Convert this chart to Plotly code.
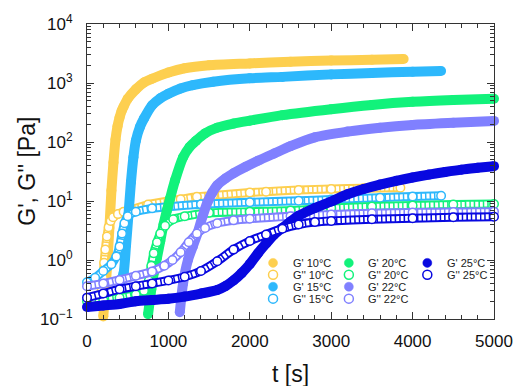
import plotly.graph_objects as go

# ---------------- data ----------------
temps = ["10°C", "15°C", "20°C", "22°C", "25°C"]
colors = ["#FDCF4F", "#2DB8FC", "#12F27B", "#8080FF", "#0808E0"]

# G' (storage modulus) curves
t_gp_10 = [200, 225, 250, 275, 300, 325, 350, 375, 400, 425, 450, 500, 600, 700, 800, 1000, 1200, 1500, 2000, 2500, 3000, 3500, 3890]
v_gp_10 = [0.11, 0.3, 0.9, 3.5, 15, 45, 110, 185, 260, 335, 400, 540, 780, 1020, 1180, 1500, 1780, 2000, 2150, 2300, 2400, 2480, 2550]

t_gp_15 = [420, 450, 480, 510, 540, 570, 600, 650, 700, 800, 900, 1000, 1150, 1300, 1550, 2000, 2400, 3000, 3500, 4000, 4350]
v_gp_15 = [0.45, 0.6, 1.8, 6, 21, 55, 105, 180, 250, 420, 550, 660, 810, 920, 1050, 1200, 1270, 1400, 1480, 1550, 1600]

t_gp_20 = [750, 790, 820, 860, 900, 940, 980, 1020, 1080, 1180, 1260, 1340, 1450, 1600, 1800, 2000, 2400, 3000, 3500, 4000, 4500, 5000]
v_gp_20 = [0.12, 0.32, 0.6, 1.1, 2.1, 4, 6.8, 11, 22, 55, 82, 105, 140, 175, 205, 230, 285, 360, 425, 480, 515, 540]

t_gp_22 = [1140, 1180, 1240, 1300, 1360, 1420, 1480, 1540, 1600, 1700, 1800, 1950, 2100, 2300, 2500, 2800, 3200, 3600, 4000, 4500, 5000]
v_gp_22 = [0.13, 0.4, 1.0, 1.7, 2.9, 5.5, 9.5, 14, 18.5, 24, 29.5, 38, 48, 64, 85, 120, 150, 175, 195, 212, 228]

t_gp_25 = [0, 200, 400, 600, 800, 1000, 1200, 1400, 1600, 1700, 1800, 1900, 2000, 2100, 2200, 2300, 2400, 2500, 2600, 2800, 3000, 3200, 3400, 3600, 3800, 4000, 4200, 4400, 4600, 4800, 5000]
v_gp_25 = [0.16, 0.17, 0.18, 0.2, 0.21, 0.22, 0.24, 0.27, 0.31, 0.36, 0.45, 0.6, 0.85, 1.3, 1.9, 2.7, 3.5, 4.5, 5.6, 7.6, 9.8, 13, 16, 19, 22, 25, 28, 31, 34, 36.5, 39]

# G'' (loss modulus) curves
t_gpp_10 = [180, 195, 210, 225, 245, 265, 290, 320, 380, 450, 550, 750, 1000, 1150, 1350, 1550, 2000, 2200, 2600, 3000, 3400, 3850]
v_gpp_10 = [0.3, 0.5, 0.9, 1.5, 2.5, 3.6, 4.6, 5.3, 6.0, 6.6, 7.2, 8.7, 10.0, 10.7, 11.8, 12.4, 13.9, 14.4, 15.4, 16.0, 16.5, 16.8]

t_gpp_15 = [0, 100, 200, 300, 360, 400, 430, 460, 500, 600, 800, 1000, 1400, 2000, 2600, 3000, 3600, 4000, 4350]
v_gpp_15 = [0.42, 0.5, 0.65, 0.85, 1.15, 1.7, 2.8, 4.2, 5.5, 6.6, 7.5, 8.0, 8.8, 9.5, 10.1, 10.6, 11.4, 11.9, 12.3]

t_gpp_20 = [0, 200, 400, 600, 700, 760, 790, 820, 860, 900, 960, 1060, 1200, 1500, 2000, 2500, 3000, 3500, 4000, 4500, 5000]
v_gpp_20 = [0.2, 0.21, 0.23, 0.26, 0.3, 0.45, 0.8, 1.3, 2.0, 2.8, 3.8, 4.9, 5.5, 6.3, 6.6, 6.9, 7.6, 8.1, 8.4, 8.7, 8.9]

t_gpp_22 = [0, 200, 400, 600, 800, 950, 1050, 1150, 1250, 1350, 1450, 1600, 1800, 2000, 2500, 3000, 3500, 4000, 4500, 5000]
v_gpp_22 = [0.36, 0.4, 0.46, 0.54, 0.64, 0.8, 1.0, 1.35, 2.0, 2.8, 3.5, 4.2, 4.7, 5.0, 5.5, 5.9, 6.2, 6.4, 6.5, 6.6]

t_gpp_25 = [0, 200, 400, 600, 800, 1000, 1200, 1400, 1600, 1800, 2000, 2200, 2400, 2600, 2800, 3000, 3500, 4000, 4500, 5000]
v_gpp_25 = [0.23, 0.27, 0.32, 0.36, 0.40, 0.45, 0.52, 0.65, 0.95, 1.5, 2.1, 2.7, 3.4, 4.0, 4.4, 4.6, 4.9, 5.1, 5.3, 5.4]

x_tickvals = [0, 1000, 2000, 3000, 4000, 5000]
x_ticktext = ["0", "1000", "2000", "3000", "4000", "5000"]
y_tickvals = [0.1, 1, 10, 100, 1000, 10000]
y_ticktext = ["10<sup>−1</sup>", "10<sup>0</sup>", "10<sup>1</sup>", "10<sup>2</sup>", "10<sup>3</sup>", "10<sup>4</sup>"]

gp = [(t_gp_10, v_gp_10), (t_gp_15, v_gp_15), (t_gp_20, v_gp_20), (t_gp_22, v_gp_22), (t_gp_25, v_gp_25)]
gpp = [(t_gpp_10, v_gpp_10), (t_gpp_15, v_gpp_15), (t_gpp_20, v_gpp_20), (t_gpp_22, v_gpp_22), (t_gpp_25, v_gpp_25)]

# ---------------- layout geometry ----------------
W, H = 525, 386
ML, MR, MT, MB = 87, 23, 22, 67
PW, PH = W - ML - MR, H - MT - MB
FONT = "Arial, Liberation Sans, sans-serif"


def px2paper(x, y):
    return (x - ML) / PW, (H - MB - y) / PH


fig = go.Figure()
SPL = dict(shape="spline", smoothing=0.7)

for i, name in enumerate(temps):
    c = colors[i]
    t, v = gp[i]
    fig.add_trace(go.Scatter(
        x=t, y=v, mode="lines+markers", name="G' " + name, showlegend=False,
        line=dict(color=c, width=10, **SPL),
        marker=dict(color=c, size=10, line=dict(width=0)), cliponaxis=False))
    t2, v2 = gpp[i]
    # hollow-circle chain rendered as a tube with a textured light core
    fig.add_trace(go.Scatter(
        x=t2, y=v2, mode="lines", showlegend=False, hoverinfo="skip",
        line=dict(color=c, width=9, **SPL)))
    fig.add_trace(go.Scatter(
        x=t2, y=v2, mode="lines", showlegend=False, hoverinfo="skip",
        line=dict(color="white", width=5, dash="3px,1.5px", **SPL)))
    fig.add_trace(go.Scatter(
        x=t2, y=v2, mode="markers", name="G'' " + name, showlegend=False,
        marker=dict(color="white", size=8.5, symbol="circle", line=dict(color=c, width=1.5)),
        cliponaxis=False))

# ---------------- manual legend (3 columns x 4 rows) ----------------
row_y = [262.5, 274.5, 286.5, 298.5]
cols = [(276.7, 295), (354, 371.7), (434, 451.7)]
entries = []
for i, name in enumerate(temps):
    entries.append(("G' " + name, colors[i], True))
    entries.append(("G'' " + name, colors[i], False))
shapes = []
annotations = []
for k, (label, c, filled) in enumerate(entries):
    col, row = divmod(k, 4)
    mx, tx = cols[col]
    y = row_y[row]
    px_, py_ = px2paper(mx, y)
    shapes.append(dict(
        type="circle", xref="paper", yref="paper", xsizemode="pixel", ysizemode="pixel",
        xanchor=px_, yanchor=py_, x0=-4.5, x1=4.5, y0=-4.5, y1=4.5,
        fillcolor=c if filled else "white", line=dict(color=c, width=1.5 if not filled else 0.5)))
    ax_, ay_ = px2paper(tx, y)
    annotations.append(dict(
        x=ax_, y=ay_, xref="paper", yref="paper", text=label, showarrow=False,
        xanchor="left", yanchor="middle", font=dict(family=FONT, size=11, color="#222")))

# axis titles
tx_, ty_ = px2paper(295, 374)
annotations.append(dict(x=tx_, y=ty_, xref="paper", yref="paper", text="t [s]", showarrow=False,
                        xanchor="center", yanchor="middle", font=dict(family=FONT, size=23, color="#111")))
yx_, yy_ = px2paper(25, 170.5)
annotations.append(dict(x=yx_, y=yy_, xref="paper", yref="paper", text="G', G'' [Pa]", showarrow=False,
                        textangle=-90, xanchor="center", yanchor="middle",
                        font=dict(family=FONT, size=23, color="#111")))

axis_common = dict(
    showline=True, linecolor="#333", linewidth=1, mirror="allticks",
    ticks="inside", ticklen=7, tickwidth=1, tickcolor="#333",
    showgrid=False, zeroline=False,
    tickfont=dict(family=FONT, size=17, color="#111"),
)

fig.update_layout(
    width=W, height=H, margin=dict(l=ML, r=MR, t=MT, b=MB),
    paper_bgcolor="white", plot_bgcolor="white",
    xaxis=dict(range=[0, 5000], tickmode="array", tickvals=x_tickvals, ticktext=x_ticktext,
               minor=dict(ticks="inside", ticklen=4, dtick=200, tickcolor="#333", showgrid=False),
               ticklabelstandoff=7, **axis_common),
    yaxis=dict(type="log", range=[-1, 4], tickmode="array", tickvals=y_tickvals, ticktext=y_ticktext,
               minor=dict(ticks="inside", ticklen=4, dtick="D1", tickcolor="#333", showgrid=False),
               ticklabelstandoff=10, **axis_common),
    shapes=shapes, annotations=annotations, showlegend=False,
)

fig.write_html("out.html")
